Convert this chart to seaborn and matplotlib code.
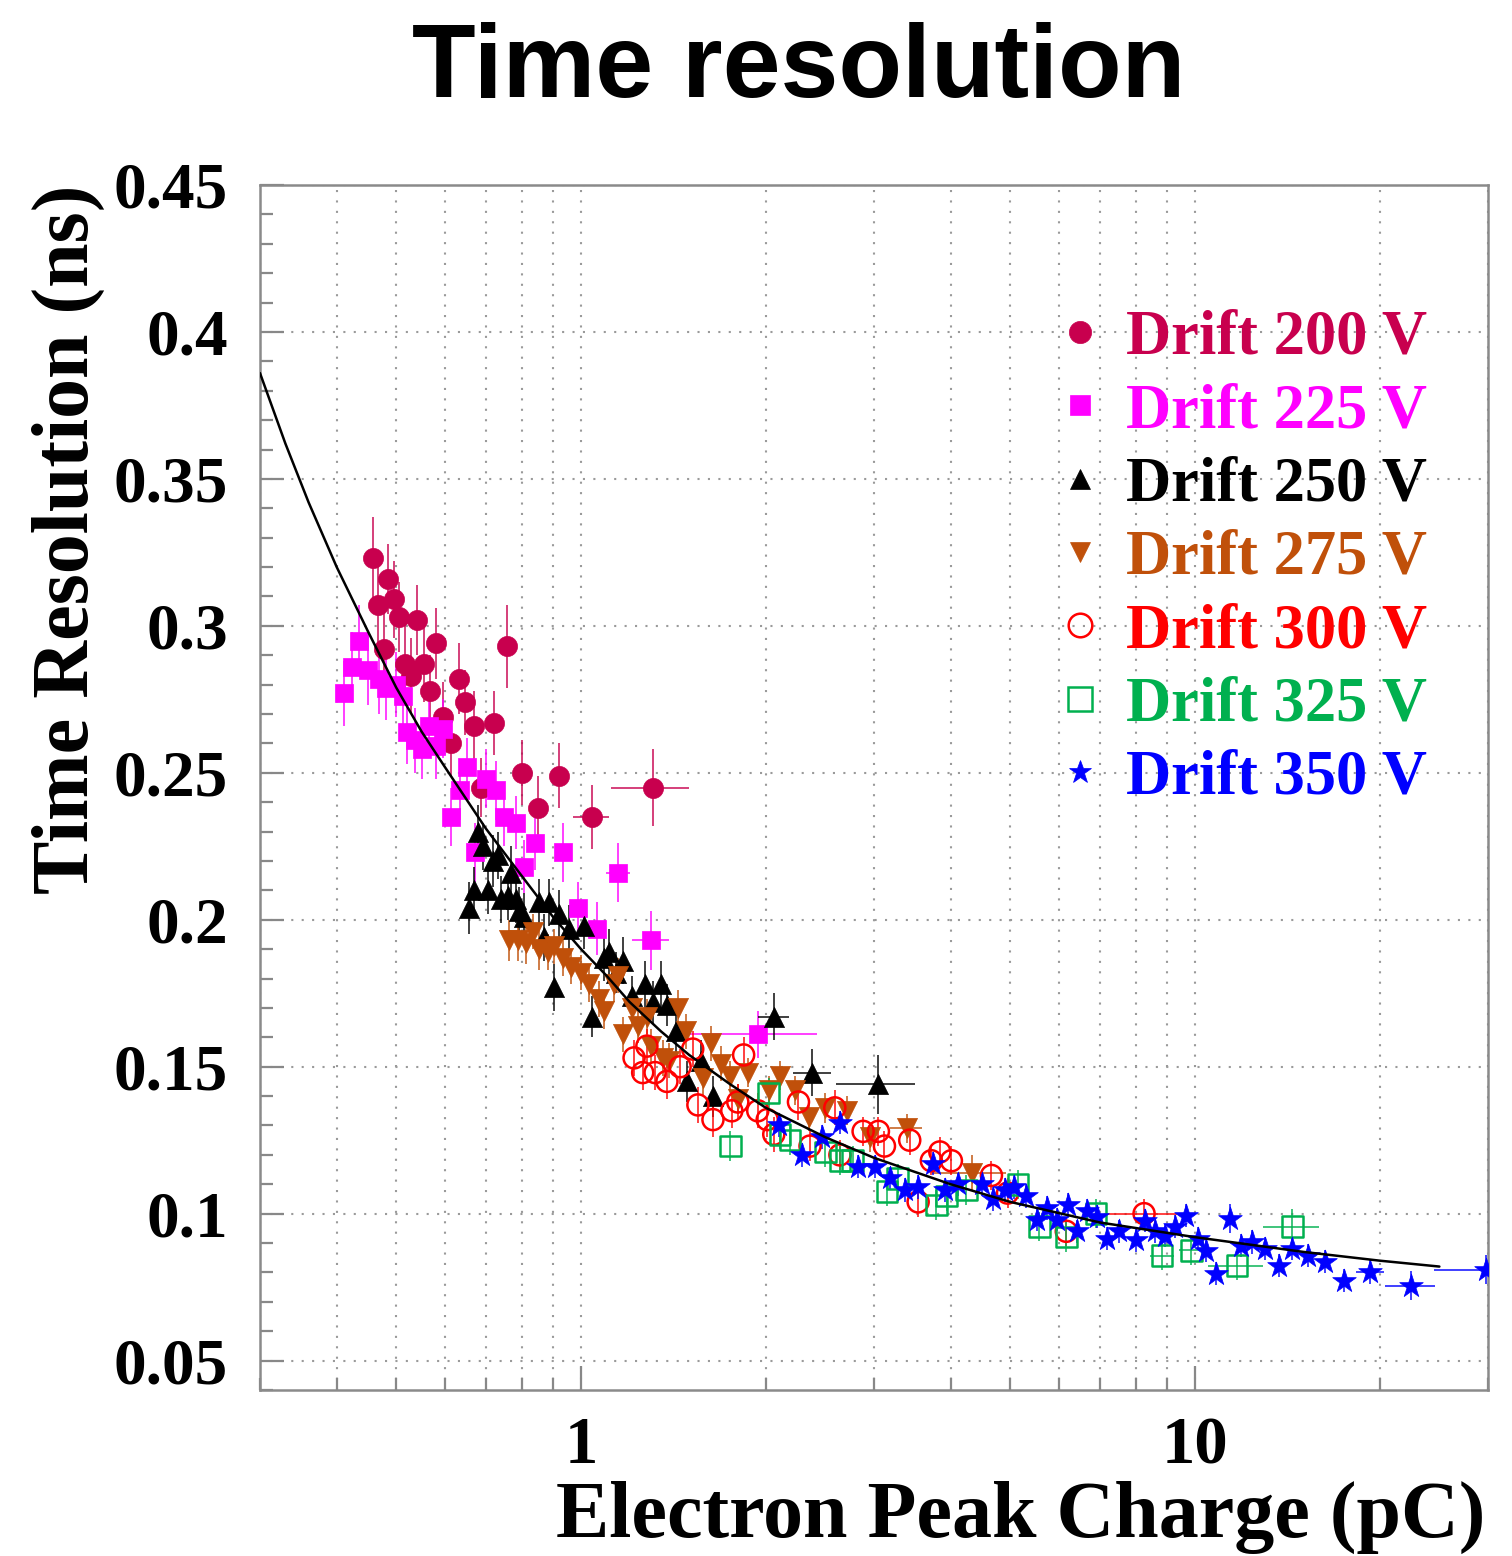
import numpy as np
import pandas as pd
import matplotlib
matplotlib.use("Agg")
import matplotlib.pyplot as plt
import seaborn as sns
from matplotlib.lines import Line2D
from matplotlib.ticker import FixedLocator, FixedFormatter, NullFormatter, LogLocator, MultipleLocator
from matplotlib.font_manager import FontProperties

# ---------------- data ----------------
x200 = [0.459, 0.467, 0.477, 0.484, 0.495, 0.505, 0.516, 0.528, 0.540, 0.554, 0.567, 0.581, 0.597,
        0.613, 0.632, 0.648, 0.670, 0.688, 0.722, 0.758, 0.800, 0.851, 0.921, 1.04, 1.31]
y200 = [0.323, 0.307, 0.292, 0.316, 0.309, 0.303, 0.287, 0.283, 0.302, 0.287, 0.278, 0.294, 0.269,
        0.260, 0.282, 0.274, 0.266, 0.245, 0.267, 0.293, 0.250, 0.238, 0.249, 0.235, 0.245]
ey200 = [0.014, 0.016, 0.014, 0.012, 0.013, 0.012, 0.014, 0.013, 0.012, 0.013, 0.012, 0.012, 0.012,
         0.011, 0.012, 0.011, 0.012, 0.010, 0.011, 0.014, 0.011, 0.011, 0.011, 0.011, 0.013]
ex200 = [0, 0, 0, 0, 0, 0, 0, 0, 0, 0, 0, 0, 0, 0, 0, 0, 0, 0, 0, 0, 0, 0, 0, 0.07, 0.19]

x225 = [0.411, 0.424, 0.435, 0.449, 0.468, 0.482, 0.500, 0.513, 0.520, 0.536, 0.550, 0.565, 0.581,
        0.597, 0.615, 0.636, 0.653, 0.673, 0.701, 0.728, 0.750, 0.784, 0.808, 0.842, 0.935, 0.990,
        1.06, 1.15, 1.30, 1.94]
y225 = [0.277, 0.286, 0.295, 0.285, 0.282, 0.279, 0.280, 0.276, 0.264, 0.261, 0.258, 0.266, 0.259,
        0.265, 0.235, 0.244, 0.252, 0.223, 0.248, 0.244, 0.235, 0.233, 0.218, 0.226, 0.223, 0.204,
        0.197, 0.216, 0.193, 0.161]
ey225 = [0.011, 0.012, 0.012, 0.012, 0.012, 0.011, 0.011, 0.011, 0.011, 0.011, 0.010, 0.011, 0.011,
         0.010, 0.010, 0.010, 0.010, 0.010, 0.010, 0.010, 0.010, 0.009, 0.009, 0.009, 0.010, 0.009,
         0.009, 0.010, 0.010, 0.008]
ex225 = [0, 0, 0, 0, 0, 0, 0, 0, 0, 0, 0, 0, 0, 0, 0, 0, 0, 0, 0, 0, 0, 0, 0, 0, 0, 0, 0,
         0.05, 0.09, 0.48]

x250 = [0.658, 0.670, 0.680, 0.693, 0.706, 0.720, 0.733, 0.742, 0.761, 0.770, 0.784, 0.793, 0.808,
        0.855, 0.871, 0.887, 0.904, 0.921, 0.956, 1.01, 1.04, 1.09, 1.11, 1.14, 1.17, 1.21, 1.27,
        1.31, 1.35, 1.38, 1.43, 1.49, 1.57, 1.64, 2.06, 2.38, 3.05]
y250 = [0.204, 0.210, 0.230, 0.225, 0.210, 0.220, 0.222, 0.207, 0.208, 0.216, 0.207, 0.203, 0.201,
        0.206, 0.194, 0.206, 0.177, 0.202, 0.197, 0.198, 0.167, 0.187, 0.189, 0.182, 0.186, 0.174,
        0.178, 0.172, 0.178, 0.171, 0.162, 0.145, 0.152, 0.140, 0.167, 0.148, 0.144]
ey250 = [0.009, 0.008, 0.009, 0.008, 0.008, 0.009, 0.008, 0.008, 0.008, 0.009, 0.008, 0.008, 0.008,
         0.008, 0.008, 0.008, 0.008, 0.008, 0.008, 0.008, 0.007, 0.008, 0.008, 0.007, 0.008, 0.007,
         0.008, 0.007, 0.008, 0.007, 0.007, 0.007, 0.007, 0.007, 0.008, 0.008, 0.010]
ex250 = [0, 0, 0, 0, 0, 0, 0, 0, 0, 0, 0, 0, 0, 0, 0, 0, 0, 0, 0, 0, 0, 0, 0, 0, 0, 0, 0,
         0, 0, 0, 0, 0, 0, 0, 0.12, 0.17, 0.45]

x275 = [0.764, 0.790, 0.814, 0.836, 0.855, 0.884, 0.904, 0.935, 0.963, 1.00, 1.03, 1.07, 1.09,
        1.13, 1.15, 1.17, 1.21, 1.24, 1.28, 1.30, 1.36, 1.39, 1.44, 1.48, 1.58, 1.63, 1.69, 1.75,
        1.80, 1.87, 2.02, 2.11, 2.23, 2.35, 2.50, 2.71, 2.95, 3.39, 4.33]
y275 = [0.193, 0.193, 0.192, 0.196, 0.190, 0.189, 0.191, 0.187, 0.184, 0.182, 0.178, 0.173, 0.169,
        0.178, 0.181, 0.161, 0.170, 0.164, 0.167, 0.157, 0.153, 0.152, 0.170, 0.162, 0.146, 0.158,
        0.151, 0.147, 0.139, 0.148, 0.142, 0.147, 0.142, 0.133, 0.136, 0.135, 0.126, 0.129, 0.114]
ey275 = [0.007, 0.007, 0.007, 0.006, 0.007, 0.006, 0.006, 0.006, 0.006, 0.006, 0.006, 0.006, 0.006,
         0.006, 0.006, 0.006, 0.006, 0.006, 0.006, 0.006, 0.006, 0.006, 0.006, 0.006, 0.006, 0.006,
         0.006, 0.005, 0.005, 0.005, 0.005, 0.005, 0.005, 0.005, 0.005, 0.005, 0.005, 0.005, 0.006]
ex275 = [0, 0, 0, 0, 0, 0, 0, 0, 0, 0, 0, 0, 0, 0, 0, 0, 0, 0, 0, 0, 0, 0, 0, 0, 0, 0, 0,
         0, 0, 0, 0, 0, 0, 0, 0, 0, 0, 0.20, 0.60]

x300 = [1.22, 1.26, 1.28, 1.32, 1.38, 1.45, 1.52, 1.55, 1.64, 1.76, 1.80, 1.84, 1.94, 2.01, 2.06,
        2.26, 2.36, 2.59, 2.64, 2.88, 3.05, 3.12, 3.43, 3.54, 3.72, 3.84, 4.01, 4.66, 4.95, 6.17, 8.26]
y300 = [0.153, 0.148, 0.157, 0.148, 0.145, 0.150, 0.156, 0.137, 0.132, 0.135, 0.138, 0.154, 0.135,
        0.132, 0.127, 0.138, 0.123, 0.136, 0.120, 0.128, 0.128, 0.123, 0.125, 0.104, 0.118, 0.121,
        0.118, 0.113, 0.107, 0.094, 0.100]
ey300 = [0.006, 0.006, 0.006, 0.006, 0.006, 0.006, 0.006, 0.006, 0.006, 0.006, 0.006, 0.006, 0.006,
         0.006, 0.006, 0.006, 0.005, 0.006, 0.005, 0.005, 0.005, 0.005, 0.005, 0.005, 0.005, 0.005,
         0.005, 0.005, 0.005, 0.005, 0.005]
ex300 = [0, 0, 0, 0, 0, 0, 0, 0, 0, 0, 0, 0, 0, 0, 0, 0, 0, 0, 0, 0, 0, 0, 0, 0, 0, 0, 0,
         0, 0, 0, 1.1]

x325 = [1.75, 2.02, 2.11, 2.19, 2.50, 2.64, 2.77, 3.15, 3.28, 3.79, 3.94, 4.24, 5.15, 5.58, 6.17,
        6.90, 8.84, 9.86, 11.7, 14.4]
y325 = [0.123, 0.141, 0.127, 0.125, 0.121, 0.118, 0.118, 0.1075, 0.112, 0.103, 0.106, 0.108, 0.110,
        0.0956, 0.092, 0.100, 0.0857, 0.0875, 0.0823, 0.0956]
ey325 = [0.005, 0.005, 0.005, 0.005, 0.005, 0.005, 0.005, 0.005, 0.005, 0.005, 0.005, 0.005, 0.005,
         0.005, 0.005, 0.005, 0.005, 0.005, 0.005, 0.006]
ex325 = [0, 0, 0, 0, 0, 0, 0, 0, 0, 0, 0, 0, 0, 0, 0, 0, 0.4, 0.45, 1.2, 1.5]

x350 = [2.10, 2.29, 2.47, 2.64, 2.83, 3.01, 3.18, 3.37, 3.54, 3.74, 3.91, 4.11, 4.49, 4.68, 4.90,
        5.08, 5.31, 5.52, 5.75, 5.97, 6.20, 6.43, 6.67, 6.92, 7.20, 7.52, 8.00, 8.30, 8.60, 8.95,
        9.28, 9.67, 10.1, 10.4, 10.8, 11.4, 11.9, 12.4, 13.0, 13.7, 14.4, 15.3, 16.3, 17.5, 19.3,
        22.5, 29.8]
y350 = [0.130, 0.120, 0.126, 0.131, 0.116, 0.116, 0.112, 0.108, 0.109, 0.117, 0.108, 0.110, 0.110,
        0.105, 0.108, 0.109, 0.106, 0.098, 0.102, 0.098, 0.103, 0.094, 0.101, 0.099, 0.0915, 0.094,
        0.091, 0.0976, 0.094, 0.0925, 0.0956, 0.0993, 0.0915, 0.0874, 0.0796, 0.0983, 0.0891,
        0.0904, 0.0881, 0.0823, 0.0881, 0.0857, 0.0837, 0.0772, 0.0802, 0.0755, 0.0810]
ey350 = [0.004, 0.004, 0.004, 0.004, 0.004, 0.004, 0.004, 0.004, 0.004, 0.004, 0.004, 0.004, 0.004,
         0.004, 0.004, 0.004, 0.004, 0.004, 0.004, 0.004, 0.004, 0.004, 0.004, 0.004, 0.004, 0.004,
         0.004, 0.004, 0.004, 0.004, 0.004, 0.004, 0.004, 0.004, 0.004, 0.005, 0.004, 0.004, 0.004,
         0.004, 0.004, 0.004, 0.004, 0.004, 0.004, 0.005, 0.005]
ex350 = [0, 0, 0, 0, 0, 0, 0, 0, 0, 0, 0, 0, 0, 0, 0, 0, 0, 0, 0, 0, 0, 0, 0, 0, 0, 0, 0,
         0, 0, 0, 0, 0, 0, 0, 0, 0, 0, 0, 0, 0, 0, 0, 0, 0, 1.0, 2.1, 5.3]

# fit curve, read at several charges
fit_x = [0.30, 0.33, 0.36, 0.40, 0.45, 0.50, 0.55, 0.60, 0.70, 0.80, 0.90, 1.0, 1.1, 1.2, 1.35,
         1.5, 1.75, 2.0, 2.5, 3.0, 4.0, 5.0, 7.0, 10.0, 15.0, 20.0, 25.0]
fit_y = [0.386, 0.362, 0.342, 0.320, 0.298, 0.279, 0.264, 0.252, 0.231, 0.215, 0.201, 0.190, 0.181,
         0.172, 0.162, 0.154, 0.144, 0.136, 0.126, 0.119, 0.110, 0.104, 0.097, 0.092, 0.087,
         0.084, 0.082]

series_labels = ["Drift 200 V", "Drift 225 V", "Drift 250 V", "Drift 275 V",
                 "Drift 300 V", "Drift 325 V", "Drift 350 V"]

y_ticks = [0.05, 0.10, 0.15, 0.20, 0.25, 0.30, 0.35, 0.40, 0.45]
y_tick_labels = ["0.05", "0.1", "0.15", "0.2", "0.25", "0.3", "0.35", "0.4", "0.45"]
x_ticks = [1, 10]
x_tick_labels = ["1", "10"]

# ---------------- styles ----------------
colors = ["#C8004E", "#FF00FF", "#000000", "#C0500A", "#FF0000", "#00B04F", "#0000FF"]
markers = ["o", "s", "^", "v", "o", "s", "*"]
filled = [True, True, True, True, False, False, True]
sizes = [210, 185, 210, 210, 230, 220, 320]
leg_ms = [16, 15, 14, 14, 17, 17, 17]

sns.set_theme(style="white")
plt.rcParams["font.family"] = ["Liberation Serif", "DejaVu Serif"]
plt.rcParams["font.weight"] = "bold"
plt.rcParams["text.color"] = "black"
plt.rcParams["axes.labelcolor"] = "black"
plt.rcParams["xtick.color"] = "black"
plt.rcParams["ytick.color"] = "black"

fig = plt.figure(figsize=(15.12, 15.56), dpi=100)
ax = fig.add_axes([260 / 1512, 1 - 1390 / 1556, 1228 / 1512, 1205 / 1556])
ax.set_xscale("log")

data = [(x200, y200, ex200, ey200), (x225, y225, ex225, ey225), (x250, y250, ex250, ey250),
        (x275, y275, ex275, ey275), (x300, y300, ex300, ey300), (x325, y325, ex325, ey325),
        (x350, y350, ex350, ey350)]

for i, (xs, ys, exs, eys) in enumerate(data):
    c = colors[i]
    ax.errorbar(xs, ys, yerr=eys, xerr=exs, fmt="none", ecolor=c, elinewidth=1.4,
                capsize=0, alpha=0.75, zorder=2)
    df = pd.DataFrame({"charge": xs, "res": ys})
    if filled[i]:
        sns.scatterplot(data=df, x="charge", y="res", color=c, marker=markers[i], s=sizes[i],
                        edgecolor=c, linewidth=0.5, ax=ax, zorder=3, legend=False)
    else:
        sns.scatterplot(data=df, x="charge", y="res", marker=markers[i], s=sizes[i],
                        facecolors="none", edgecolor=c, linewidth=1.8, ax=ax, zorder=3,
                        legend=False)

sns.lineplot(x=fit_x, y=fit_y, color="black", linewidth=1.8, ax=ax, zorder=5)

ax.set_xlim(0.3, 30)
ax.set_ylim(0.04, 0.45)

# ticks
ax.xaxis.set_major_locator(FixedLocator(x_ticks))
ax.xaxis.set_major_formatter(FixedFormatter(x_tick_labels))
ax.xaxis.set_minor_locator(LogLocator(base=10, subs=np.arange(2, 10)))
ax.xaxis.set_minor_formatter(NullFormatter())
ax.yaxis.set_major_locator(FixedLocator(y_ticks))
ax.yaxis.set_major_formatter(FixedFormatter(y_tick_labels))
ax.yaxis.set_minor_locator(MultipleLocator(0.01))

ax.tick_params(which="both", direction="in", color="#888888", width=1.6,
               left=True, bottom=True, top=False, right=False)
ax.tick_params(which="major", length=17)
ax.tick_params(which="minor", length=9)
ax.tick_params(axis="y", which="major", labelsize=47, pad=23, labelcolor="black")
ax.tick_params(axis="x", which="major", labelsize=48, pad=19, labelcolor="black")

# grid
ax.set_axisbelow(True)
ax.grid(True, which="major", axis="both", color="#9a9a9a", linestyle=(0, (1, 4)), linewidth=1.5)
ax.grid(True, which="minor", axis="x", color="#9a9a9a", linestyle=(0, (1, 4)), linewidth=1.5)

for s in ax.spines.values():
    s.set_color("#8a8a8a")
    s.set_linewidth(1.8)
    s.set_visible(True)

# labels
ax.set_xlabel("Electron Peak Charge (pC)", fontsize=57.6, fontweight="bold", loc="right",
              color="black")
ax.xaxis.set_label_coords(0.998, -0.0755)
ax.set_ylabel("Time Resolution (ns)", fontsize=57.6, fontweight="bold", loc="top", color="black")
ax.yaxis.set_label_coords(-0.126, 1.0)

fig.text(0.528, 1 - 97 / 1556, "Time resolution", ha="center", va="baseline", fontsize=75,
         fontweight="bold", color="black", family=["Liberation Sans", "DejaVu Sans"])

# legend
handles = []
for i in range(len(series_labels)):
    c = colors[i]
    handles.append(Line2D([], [], linestyle="none", marker=markers[i], color=c, markersize=leg_ms[i],
                          markerfacecolor=c if filled[i] else "none", markeredgecolor=c,
                          markeredgewidth=1.8 if not filled[i] else 0.5))
leg = ax.legend(handles=handles, labels=series_labels, loc="upper left",
                bbox_to_anchor=(1049 / 1512, 1 - 310 / 1556), bbox_transform=fig.transFigure,
                frameon=False, prop=FontProperties(family="Liberation Serif", weight="bold", size=45),
                labelcolor=colors, handlelength=1.0, handletextpad=0.23, labelspacing=0.245,
                borderpad=0, borderaxespad=0)

fig.savefig("out.png", dpi=100)
